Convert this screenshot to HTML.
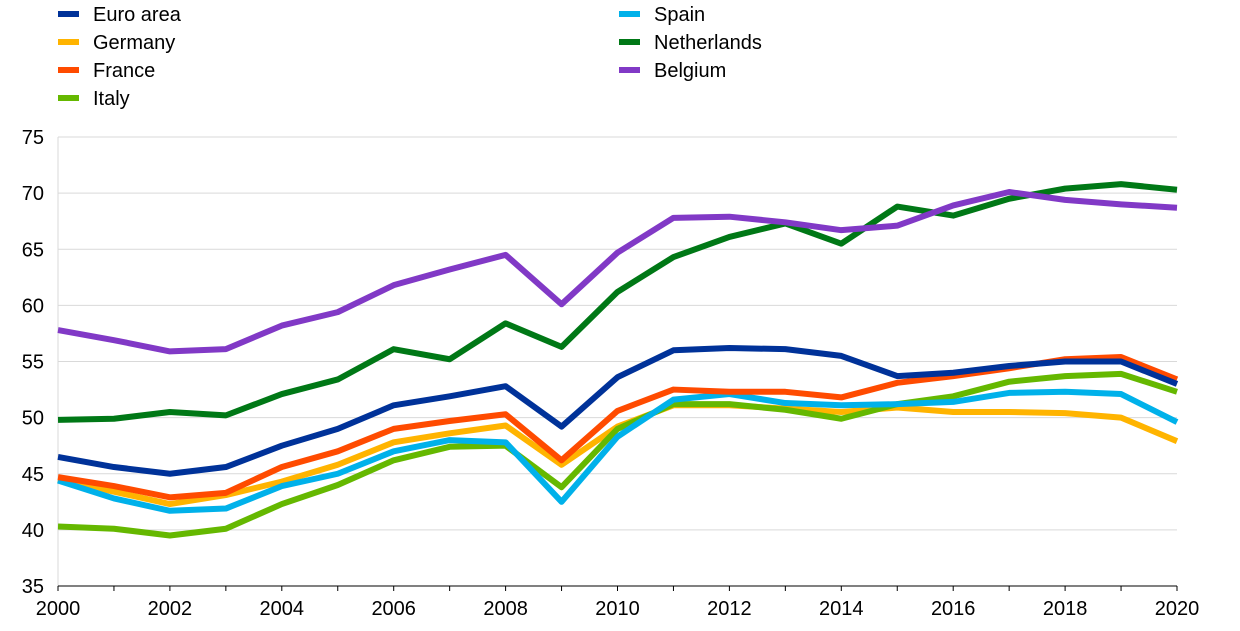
<!DOCTYPE html>
<html><head><meta charset="utf-8"><style>
body{margin:0;background:#fff;}
svg{display:block;font-family:"Liberation Sans",Arial,sans-serif;}
</style></head><body>
<svg id="c" width="1240" height="631" xmlns="http://www.w3.org/2000/svg"></svg>
<script>
const s=document.getElementById('c');
const X=y=>58+(y-2000)*55.95, Y=v=>586-(v-35)*11.225;
let h='';
for(let v=40;v<=75;v+=5){h+=`<line x1="58" x2="1177" y1="${Y(v)}" y2="${Y(v)}" stroke="#d9d9d9" stroke-width="1"/>`;}
for(let v=35;v<=75;v+=5){h+=`<text x="44" y="${Y(v)+7}" font-size="20" text-anchor="end" fill="#000">${v}</text>`;}
h+=`<line x1="58" x2="58" y1="137" y2="586" stroke="#d9d9d9"/>`;
h+=`<line x1="58" x2="1177" y1="586" y2="586" stroke="#000"/>`;
for(let y=2000;y<=2020;y++){h+=`<line x1="${X(y)}" x2="${X(y)}" y1="586" y2="591" stroke="#000"/>`;
 if(y%2==0)h+=`<text x="${X(y)}" y="615" font-size="20" text-anchor="middle">${y}</text>`;}
const d=[
["Netherlands","#007816",[49.8,49.9,50.5,50.2,52.1,53.4,56.1,55.2,58.4,56.3,61.2,64.3,66.1,67.3,65.5,68.8,68.0,69.5,70.4,70.8,70.3]],
["Belgium","#8139c6",[57.8,56.9,55.9,56.1,58.2,59.4,61.8,63.2,64.5,60.1,64.7,67.8,67.9,67.4,66.7,67.1,68.9,70.1,69.4,69.0,68.7]],
["Germany","#ffb400",[44.5,43.4,42.3,43.1,44.3,45.8,47.8,48.6,49.3,45.8,49.2,51.1,51.1,50.8,50.5,50.9,50.5,50.5,50.4,50.0,47.9]],
["Italy","#65b800",[40.3,40.1,39.5,40.1,42.3,44.0,46.2,47.4,47.5,43.8,49.0,51.2,51.2,50.7,49.9,51.2,51.9,53.2,53.7,53.9,52.3]],
["Spain","#00b1ea",[44.4,42.8,41.7,41.9,43.9,45.0,47.0,48.0,47.8,42.5,48.3,51.6,52.1,51.3,51.1,51.2,51.4,52.2,52.3,52.1,49.6]],
["France","#ff4b00",[44.7,43.9,42.9,43.3,45.6,47.0,49.0,49.7,50.3,46.2,50.6,52.5,52.3,52.3,51.8,53.1,53.7,54.4,55.2,55.4,53.4]],
["Euro area","#003299",[46.5,45.6,45.0,45.6,47.5,49.0,51.1,51.9,52.8,49.2,53.6,56.0,56.2,56.1,55.5,53.7,54.0,54.6,55.0,55.0,53.0]]];
for(const [n,c,v] of d){h+=`<polyline fill="none" stroke="${c}" stroke-width="6" stroke-linejoin="round" points="${v.map((a,i)=>X(2000+i)+','+Y(a)).join(' ')}"/>`;}
const L=[["Euro area","#003299",58,14],["Germany","#ffb400",58,42],["France","#ff4b00",58,70],["Italy","#65b800",58,98],
["Spain","#00b1ea",619,14],["Netherlands","#007816",619,42],["Belgium","#8139c6",619,70]];
for(const [n,c,x,y] of L){h+=`<line x1="${x}" x2="${x+21}" y1="${y}" y2="${y}" stroke="${c}" stroke-width="6"/><text x="${x+35}" y="${y+7}" font-size="20">${n}</text>`;}
s.innerHTML=h;
</script>
</body></html>
